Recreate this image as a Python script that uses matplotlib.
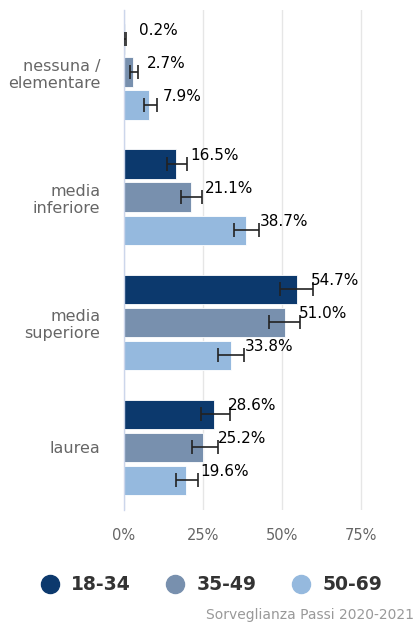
import numpy as np
import matplotlib.pyplot as plt
from matplotlib.lines import Line2D

categories = ['nessuna /\nelementare', 'media\ninferiore', 'media\nsuperiore', 'laurea']
series = ['18-34', '35-49', '50-69']
colors = ['#0c396d', '#7890ae', '#95b9de']

# percentage per age class, one list per series (category order as above)
values = [
    [0.2, 16.5, 54.7, 28.6],
    [2.7, 21.1, 51.0, 25.2],
    [7.9, 38.7, 33.8, 19.6],
]
ci_low = [
    [0.0, 13.5, 49.4, 24.4],
    [1.9, 18.0, 45.9, 21.4],
    [6.3, 34.9, 29.8, 16.5],
]
ci_high = [
    [0.6, 20.0, 59.8, 33.5],
    [4.5, 24.8, 55.9, 29.8],
    [10.5, 42.8, 38.0, 23.6],
]
xticks = [0, 25, 50, 75]

fig = plt.figure(figsize=(4.17, 6.26), dpi=100)
ax = fig.add_axes([124 / 417, 1 - 510 / 626, 276 / 417, 500.5 / 626])

ycat = np.arange(len(categories))
step = 0.264
height = 0.235

for i, name in enumerate(series):
    y = ycat + (i - 1) * step
    v = np.array(values[i])
    lo = v - np.array(ci_low[i])
    hi = np.array(ci_high[i]) - v
    ax.barh(y, v, height=height, color=colors[i], edgecolor='white', linewidth=0.6, zorder=2)
    ax.errorbar(v, y, xerr=[lo, hi], fmt='none', ecolor='#222222', elinewidth=1.2,
                capsize=4.7, capthick=1.2, zorder=3)
    for yy, val in zip(y, v):
        ax.annotate(f'{val:.1f}%', (val, yy), xytext=(14, 9), textcoords='offset pixels',
                    ha='left', va='center', fontsize=11, color='black', zorder=4)

ax.set_xlim(0, 87.5)
ax.set_ylim(len(categories) - 0.5, -0.5)
ax.set_xticks(xticks)
ax.set_xticklabels([f'{t}%' for t in xticks], fontsize=10.5, color='#666666')
ax.set_yticks(ycat)
ax.set_yticklabels(categories, fontsize=11.5, color='#666666', ha='right', linespacing=1.2)
ax.tick_params(axis='both', length=0)
ax.tick_params(axis='x', pad=13)
ax.tick_params(axis='y', pad=17)
ax.grid(axis='x', color='#e6e6e6', linewidth=1, zorder=0)
ax.set_axisbelow(True)
for s in ['top', 'right', 'bottom']:
    ax.spines[s].set_visible(False)
ax.spines['left'].set_color('#ccd6eb')
ax.spines['left'].set_linewidth(1)

handles = [Line2D([0], [0], marker='o', linestyle='none', markersize=13,
                  markerfacecolor=c, markeredgecolor=c) for c in colors]
fig.legend(handles, series, loc='center', bbox_to_anchor=(0.5, 1 - 585 / 626), ncol=3,
           frameon=False, handletextpad=0.35, handlelength=1.6, columnspacing=1.55,
           prop={'size': 13.5, 'weight': 'bold'}, labelcolor='#333333')

fig.text(414 / 417, 1 - 615 / 626, 'Sorveglianza Passi 2020-2021', ha='right', va='center',
         fontsize=10, color='#999999')

fig.savefig('out.png', dpi=100)
